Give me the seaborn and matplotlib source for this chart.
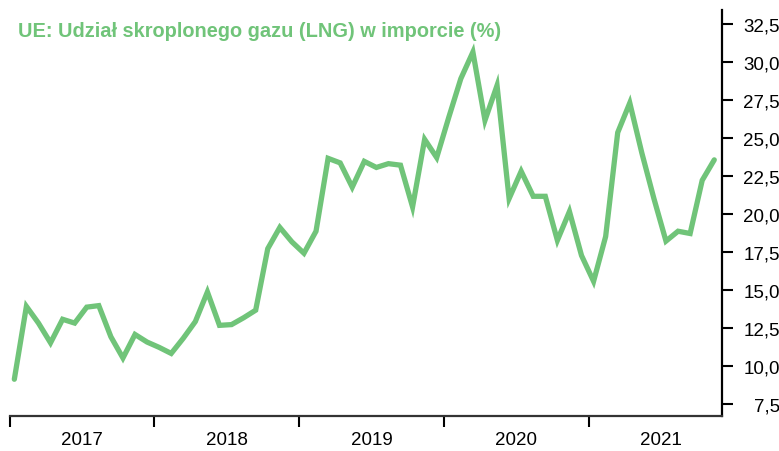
import numpy as np
import pandas as pd
import matplotlib
matplotlib.use("Agg")
import matplotlib.pyplot as plt
import matplotlib.ticker as mticker
import seaborn as sns

# ── Data: EU share of LNG in gas imports (%), monthly Jan 2017 – Nov 2021 ──
months = pd.date_range("2017-01-01", "2021-11-01", freq="MS")
lng_share = [
    9.1, 13.9, 12.8, 11.5, 13.05, 12.8, 13.85, 13.95, 11.9, 10.5, 12.05, 11.55,   # 2017
    11.2, 10.8, 11.8, 12.9, 14.85, 12.65, 12.7, 13.15, 13.65, 17.7, 19.1, 18.15,  # 2018
    17.4, 18.85, 23.65, 23.35, 21.75, 23.45, 23.05, 23.3, 23.2, 20.45, 24.9, 23.7,  # 2019
    26.35, 28.9, 30.65, 26.15, 28.45, 21.0, 22.8, 21.15, 21.15, 18.25, 20.15, 17.25,  # 2020
    15.55, 18.5, 25.35, 27.3, 24.0, 21.0, 18.2, 18.85, 18.7, 22.2, 23.55,          # 2021
]
years = ["2017", "2018", "2019", "2020", "2021"]
y_ticks = [7.5, 10.0, 12.5, 15.0, 17.5, 20.0, 22.5, 25.0, 27.5, 30.0, 32.5]

TITLE = "UE: Udział skroplonego gazu (LNG) w imporcie (%)"
GREEN = "#70c479"

# month index, points sit a bit after the start of each month
df = pd.DataFrame({
    "x": np.arange(len(lng_share)) + 0.4,
    "share": lng_share,
    "month": months,
})

sns.set_style("white")
plt.rcParams["font.family"] = ["Liberation Sans", "DejaVu Sans"]
plt.rcParams["text.color"] = "black"
plt.rcParams["xtick.color"] = "black"
plt.rcParams["ytick.color"] = "black"

fig = plt.figure(figsize=(7.79, 4.52), dpi=100)
ax = fig.add_axes([9.5 / 779, 1 - 417 / 452, 712 / 779, 406 / 452])

sns.lineplot(data=df, x="x", y="share", ax=ax, color=GREEN, lw=3.8,
             solid_joinstyle="miter")

# ── Axes styling ───────────────────────────────────────────────────────
ax.set_xlim(0, 59)
ax.set_ylim(6.68, 33.42)
ax.set_xlabel("")
ax.set_ylabel("")

for side in ["top", "left"]:
    ax.spines[side].set_visible(False)
ax.spines["right"].set_color("black")
ax.spines["right"].set_linewidth(1.6)
ax.spines["bottom"].set_color("#333333")
ax.spines["bottom"].set_linewidth(1.6)

# x: year boundaries as ticks, year names centred between them
ax.set_xticks([12 * k for k in range(len(years))])
ax.set_xticklabels([])
ax.set_xticks([12 * k + 6 for k in range(len(years))], minor=True)
ax.set_xticklabels(years, minor=True)
ax.tick_params(axis="x", which="major", direction="out", length=8, width=1.5,
               color="black", bottom=True)
ax.tick_params(axis="x", which="minor", length=0, pad=11, labelsize=13.5,
               labelcolor="black")

# y: on the right, decimal comma
ax.yaxis.tick_right()
ax.set_yticks(y_ticks)
ax.yaxis.set_major_formatter(mticker.FuncFormatter(lambda v, _: f"{v:.1f}".replace(".", ",")))
ax.tick_params(axis="y", which="major", direction="out", length=8, width=1.5,
               color="black", right=True, left=False, labelsize=13.5, pad=34,
               labelcolor="black")
for lab in ax.get_yticklabels():
    lab.set_horizontalalignment("right")

fig.text(18 / 779, 1 - 36.7 / 452, TITLE, color=GREEN, fontsize=14.4,
         fontweight="bold", va="baseline", ha="left")

fig.savefig("out.png", dpi=100)
plt.close(fig)
